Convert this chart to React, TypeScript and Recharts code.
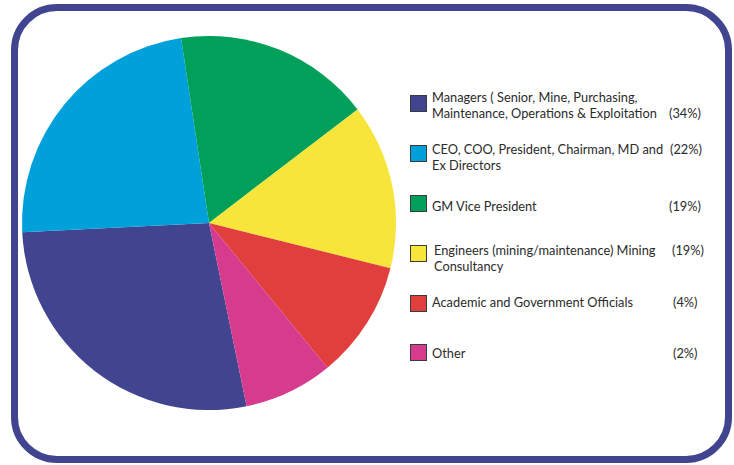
import React from "react";
import { PieChart, Pie, Cell, Legend } from "recharts";

const categories = [
  ["Managers ( Senior, Mine, Purchasing,", "Maintenance, Operations & Exploitation"],
  ["CEO, COO, President, Chairman, MD and", "Ex Directors"],
  ["GM Vice President"],
  ["Engineers (mining/maintenance) Mining", "Consultancy"],
  ["Academic and Government Officials"],
  ["Other"],
];
const percentLabels = ["(34%)", "(22%)", "(19%)", "(19%)", "(4%)", "(2%)"];
// slice sizes as drawn in the picture (degrees of arc, estimated)
const sliceValues = [98.8, 84.2, 61.2, 51.4, 36.7, 27.7];
const colors = ["#41448f", "#00a0da", "#00a05a", "#f7e53b", "#e03f3d", "#d63b8d"];

const data = categories.map((c, i) => ({ name: c.join(" "), value: sliceValues[i] }));

// layout for the custom legend
const squareTops = [95, 145, 195, 245, 295, 344];
const firstBaselines = [102.3, 153.6, 211, 255, 307.3, 358.3];
const textLefts = [432, 432, 432, 434, 432, 432];
const pctLefts = [669, 670, 669, 672, 673, 673];
const pctLine = [1, 0, 0, 0, 0, 0];

const FONT = "Lato, 'Open Sans', sans-serif";
const FS = 12.8;
const LINE = 16;
const BASE_OFF = (LINE - FS * 1.2) / 2 + FS * 0.987;

function CustomLegend() {
  return (
    <div style={{ position: "absolute", left: 0, top: 0, width: 734, height: 465, pointerEvents: "none" }}>
      {categories.map((lines, i) => {
        const top = squareTops[i];
        const textTop = firstBaselines[i] - BASE_OFF;
        const txt = {
          position: "absolute" as const,
          fontFamily: FONT,
          fontSize: FS,
          lineHeight: LINE + "px",
          color: "#2b2b2b",
          whiteSpace: "nowrap" as const,
        };
        return (
          <React.Fragment key={i}>
            <div
              style={{
                position: "absolute",
                left: 410,
                top: top,
                width: 17,
                height: 17,
                boxSizing: "border-box",
                background: colors[i],
                border: "1.5px solid #3a3a3a",
              }}
            />
            {lines.map((l, j) => (
              <div key={j} style={{ ...txt, left: textLefts[i], top: textTop + j * LINE }}>
                {l}
              </div>
            ))}
            <div style={{ ...txt, left: pctLefts[i], top: textTop + pctLine[i] * LINE }}>
              {percentLabels[i]}
            </div>
          </React.Fragment>
        );
      })}
    </div>
  );
}

export default function App() {
  return (
    <div style={{ position: "absolute", left: 0, top: 0, width: 734, height: 465, background: "#fff" }}>
      <div
        style={{
          position: "absolute",
          left: 11,
          top: 4,
          width: 721,
          height: 459,
          boxSizing: "border-box",
          border: "7px solid #41448f",
          borderRadius: 46,
          background: "#fff",
        }}
      />
      <div style={{ position: "absolute", left: 0, top: 0 }}>
        <PieChart width={734} height={465} margin={{ top: 0, right: 0, bottom: 0, left: 0 }}>
          <Pie
            data={data}
            dataKey="value"
            nameKey="name"
            cx={209}
            cy={223}
            outerRadius={187}
            startAngle={-78.4}
            endAngle={-438.4}
            stroke="none"
            isAnimationActive={false}
          >
            {data.map((d, i) => (
              <Cell key={i} fill={colors[i]} />
            ))}
          </Pie>
          <Legend
            content={<CustomLegend />}
            wrapperStyle={{ position: "absolute", left: 0, top: 0, width: 734, height: 465 }}
          />
        </PieChart>
      </div>
    </div>
  );
}
